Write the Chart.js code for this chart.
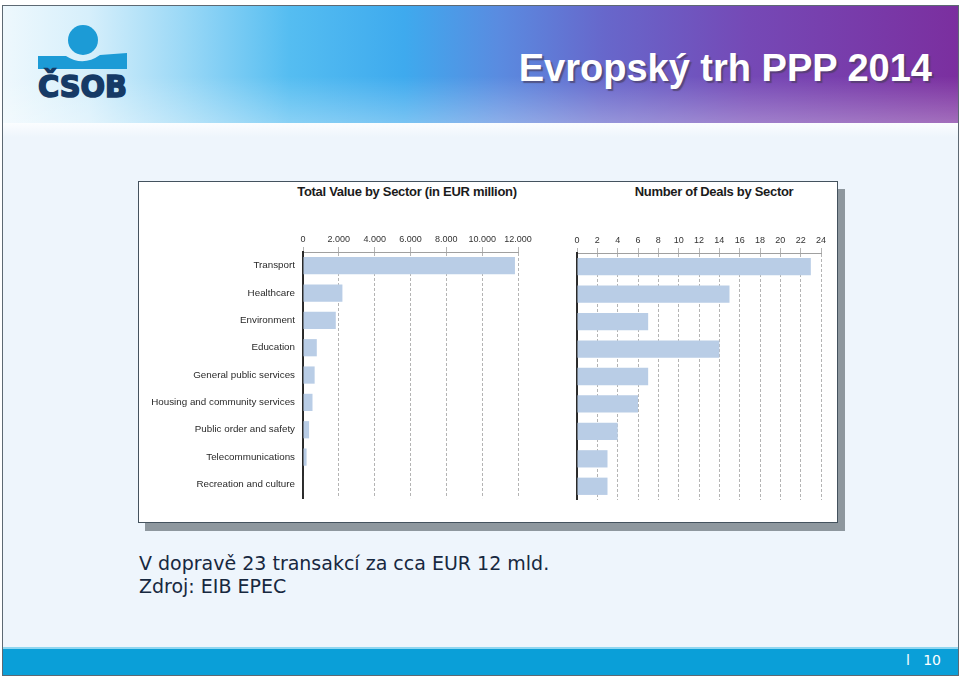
<!DOCTYPE html>
<html lang="cs">
<head>
<meta charset="UTF-8" />
<title>Evropský trh PPP 2014</title>
<script src="https://cdn.jsdelivr.net/npm/chart.js"></script>
<style>
  html, body { margin: 0; padding: 0; background: #fff; }
  body { width: 960px; height: 680px; position: relative; overflow: hidden; font-family: "Liberation Sans", Arial, sans-serif; }
  .slide { position: absolute; left: 2px; top: 5px; width: 955px; height: 669px; border: 1px solid #5d6973; background: #eef5fc; overflow: hidden; }
  .head { position: absolute; left: 0; top: 0; width: 100%; height: 117px;
    background:
      linear-gradient(to bottom, rgba(255,255,255,0) 60%, rgba(255,255,255,0.3) 100%),
      linear-gradient(to right, #eef8fd 0%, #d6effb 9%, #9ad8f6 19%, #55bdf1 30%, #3eaaee 42%, #5a8be0 52%, #6767cb 63%, #7549b6 78%, #7b2f9f 100%); }
  .headfade { position: absolute; left: 0; top: 117px; width: 100%; height: 14px; background: linear-gradient(to bottom, #fbfdff, #eef5fc); }
  .title { position: absolute; right: 26px; top: 41px; color: #fff; font: bold 38px "Liberation Sans", Arial, sans-serif; text-shadow: 2px 2px 1px rgba(70,60,90,0.65); white-space: nowrap; }
  .logo { position: absolute; left: 31px; top: 11px; }
  .panel { position: absolute; left: 135px; top: 175px; width: 698px; height: 340px; background: #fff; border: 1px solid #44525e; box-shadow: 7px 8px 0 #8e979e; }
  .ptitle { position: absolute; top: 178px; font: bold 13px "Liberation Sans", Arial, sans-serif; color: #1b1b1b; white-space: nowrap; transform: translateX(-50%); letter-spacing: -0.3px; }
  canvas { position: absolute; }
  .note { position: absolute; left: 136px; top: 546px; color: #17283f; font: 19px "DejaVu Sans", Verdana, sans-serif; line-height: 23px; white-space: nowrap; }
  .foot { position: absolute; left: 0; top: 641px; width: 100%; height: 28px; background: #0a9fd8; border-top: 2px solid #8fd6f0; }
  .page { position: absolute; right: 17px; top: 646px; color: #fff; font: 14px "DejaVu Sans", Verdana, sans-serif; white-space: nowrap; }
</style>
</head>
<body>
<div class="slide">
  <div class="head"></div>
  <div class="headfade"></div>
  <svg class="logo" width="100" height="90" viewBox="34 17 100 90">
    <circle cx="83" cy="40" r="15" fill="#1c9bd6" />
    <path d="M38,56 L66,56 Q83,67 100,55 L127,53 L127,69 L38,69 Z" fill="#1c9bd6" />
    <text x="38" y="97" font-family="DejaVu Sans" font-weight="bold" font-size="30" fill="#163a66" stroke="#163a66" stroke-width="1.6" textLength="89" lengthAdjust="spacingAndGlyphs">ČSOB</text>
  </svg>
  <div class="title">Evropský trh PPP 2014</div>
  <div class="panel"></div>
  <div class="ptitle" style="left:404px">Total Value by Sector (in EUR million)</div>
  <div class="ptitle" style="left:711px">Number of Deals by Sector</div>
  <div class="note">V dopravě 23 transakcí za cca EUR 12 mld.<br>Zdroj: EIB EPEC</div>
  <div class="foot"></div>
  <div class="page">l&nbsp;&nbsp;&nbsp;10</div>
</div>
<canvas id="valueChart" style="left:140px; top:230px; width:400px; height:274px"></canvas>
<canvas id="dealChart" style="left:560px; top:231px; width:280px; height:269px"></canvas>

<script>
  const sectors = [
    "Transport",
    "Healthcare",
    "Environment",
    "Education",
    "General public services",
    "Housing and community services",
    "Public order and safety",
    "Telecommunications",
    "Recreation and culture",
  ];
  const valueEurMillion = [11830, 2200, 1830, 770, 650, 530, 340, 200, 30];
  const dealCount = [23, 15, 7, 14, 7, 6, 4, 3, 3];
  const valueAxis = { max: 12000, step: 2000 };
  const dealAxis = { max: 24, step: 2 };

  const barColor = "#b9cde6";
  const dots = (v) => String(v).replace(/\B(?=(\d{3})+(?!\d))/g, ".");

  const makeChart = (id, values, axis, showLabels, yWidth, padRight) => {
    const canvas = document.getElementById(id);
    canvas.width = parseInt(canvas.style.width);
    canvas.height = parseInt(canvas.style.height);
    return new Chart(canvas.getContext("2d"), {
      type: "bar",
      data: {
        labels: sectors,
        datasets: [{ data: values, backgroundColor: barColor, borderWidth: 0, categoryPercentage: 1, barPercentage: 0.63 }],
      },
      options: {
        indexAxis: "y",
        responsive: false,
        animation: false,
        layout: { padding: { left: 0, right: padRight, top: 0, bottom: 0 } },
        plugins: { legend: { display: false }, tooltip: { enabled: false } },
        scales: {
          x: {
            position: "top",
            min: 0,
            max: axis.max,
            afterFit: (s) => { s.height = 22; },
            ticks: { stepSize: axis.step, callback: (v) => dots(v), color: "#333", font: { family: "Liberation Sans", size: 9 }, padding: 2, maxRotation: 0, autoSkip: false },
            grid: { color: "#b4b4b4", lineWidth: 1, drawTicks: true, tickLength: 5 },
            border: { display: true, color: "#a0a0a0", dash: [3, 2] },
          },
          y: {
            afterFit: (s) => { s.width = yWidth; },
            ticks: { display: showLabels, color: "#2a2a2a", font: { family: "Liberation Sans", size: 9.8 }, padding: 0 },
            grid: { display: false },
            border: { display: true, color: "#2b2b2b", width: 2 },
          },
        },
      },
    });
  };

  makeChart("valueChart", valueEurMillion, valueAxis, true, 163, 22);
  makeChart("dealChart", dealCount, dealAxis, false, 17, 19);
</script>
</body>
</html>
